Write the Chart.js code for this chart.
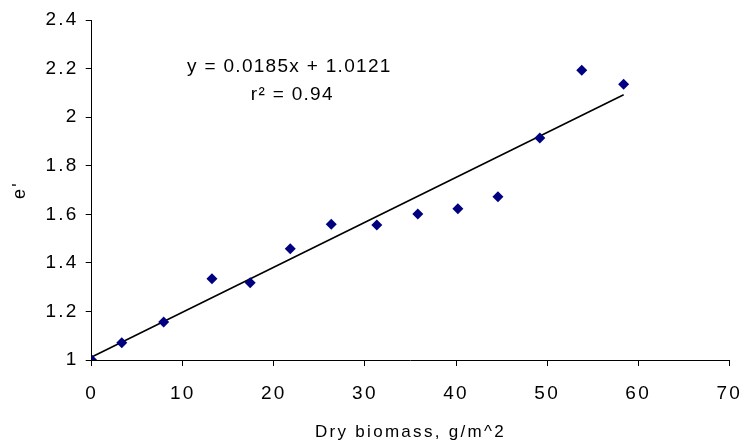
<!DOCTYPE html>
<html>
<head>
<meta charset="utf-8">
<script src="https://cdn.jsdelivr.net/npm/chart.js@4.4.1/dist/chart.umd.min.js"></script>
<style>
    html, body { margin: 0; padding: 0; background: #ffffff; }
    #wrap { width: 744px; height: 447px; }
</style>
</head>
<body>
<div id="wrap"><canvas id="chart" width="744" height="447"></canvas></div>
<script>
// Dry biomass (g/m^2) against measured e'
const biomass = [0, 3.3, 7.9, 13.2, 17.4, 21.8, 26.3, 31.3, 35.8, 40.2, 44.6, 49.2, 53.8, 58.4];
const permittivity = [1.0, 1.071, 1.156, 1.335, 1.318, 1.458, 1.559, 1.556, 1.601, 1.623, 1.672, 1.914, 2.193, 2.135];

// Linear fit reported on the chart
const fitSlope = 0.0185;
const fitIntercept = 1.0121;
const fitR2 = 0.94;

const xTicks = [0, 10, 20, 30, 40, 50, 60, 70];
const yTicks = [1, 1.2, 1.4, 1.6, 1.8, 2, 2.2, 2.4];

const FONT = 'Liberation Sans, Arial, sans-serif';

const fitLine = [0, Math.max(...biomass)].map(x => ({ x: x, y: fitIntercept + fitSlope * x }));

// Wider text spacing for axis labels
const spacingPlugin = {
    id: 'spacing',
    beforeDraw(chart) {
        chart.ctx.letterSpacing = '2.3px';
    }
};

// Equation and r^2 printed above the fit
const equationPlugin = {
    id: 'equation',
    afterDraw(chart) {
        const { ctx, scales } = chart;
        const cx = scales.x.getPixelForValue(21.7);
        const cy = scales.y.getPixelForValue(2.206);
        ctx.save();
        ctx.letterSpacing = '1.3px';
        ctx.fillStyle = '#000';
        ctx.font = '19px ' + FONT;
        ctx.textAlign = 'center';
        ctx.textBaseline = 'middle';
        ctx.fillText(`y = ${fitSlope}x + ${fitIntercept}`, cx, cy);
        ctx.fillText(`r\u00b2 = ${fitR2}`, cx + 3, cy + 28);
        ctx.restore();
    }
};

new Chart(document.getElementById('chart'), {
    type: 'scatter',
    data: {
        datasets: [
            {
                label: 'Measured',
                data: biomass.map((x, i) => ({ x: x, y: permittivity[i] })),
                pointStyle: 'rectRot',
                pointRadius: 5.5,
                pointBorderWidth: 0,
                backgroundColor: '#000080',
                borderColor: '#000080'
            },
            {
                label: 'Linear fit',
                type: 'line',
                data: fitLine,
                borderColor: '#000000',
                borderWidth: 1.6,
                pointRadius: 0,
                fill: false
            }
        ]
    },
    options: {
        responsive: false,
        animation: false,
        devicePixelRatio: 1,
        layout: { padding: { top: 20, right: 0, left: 0, bottom: 0 } },
        plugins: {
            legend: { display: false },
            tooltip: { enabled: false }
        },
        scales: {
            x: {
                type: 'linear',
                min: 0,
                max: 70,
                afterBuildTicks: s => { s.ticks = xTicks.map(v => ({ value: v })); },
                afterFit: s => {
                    s.height = 87;
                    s.paddingLeft = 0;
                    s.paddingRight = 14.7;
                },
                border: { display: true, color: '#000', width: 1 },
                grid: { drawOnChartArea: false, drawTicks: true, tickLength: 6, color: '#000' },
                ticks: { color: '#000', padding: 16, maxRotation: 0, font: { family: FONT, size: 19 } },
                title: {
                    display: true,
                    text: 'Dry biomass, g/m^2',
                    color: '#000',
                    font: { family: FONT, size: 17 },
                    padding: { top: 0, bottom: 4 }
                }
            },
            y: {
                type: 'linear',
                min: 1,
                max: 2.4,
                afterBuildTicks: s => { s.ticks = yTicks.map(v => ({ value: v })); },
                afterFit: s => {
                    s.width = 91.7;
                    s.paddingTop = 0;
                    s.paddingBottom = 0;
                },
                border: { display: true, color: '#000', width: 1 },
                grid: { drawOnChartArea: false, drawTicks: true, tickLength: 6, color: '#000' },
                ticks: {
                    color: '#000',
                    padding: 7,
                    font: { family: FONT, size: 19 },
                    callback: v => String(yTicks.find(t => Math.abs(t - v) < 1e-9) ?? v)
                },
                title: {
                    display: true,
                    text: "e'",
                    color: '#000',
                    font: { family: FONT, size: 18 },
                    padding: { top: 9, bottom: 0 }
                }
            }
        }
    },
    plugins: [spacingPlugin, equationPlugin]
});
</script>
</body>
</html>
